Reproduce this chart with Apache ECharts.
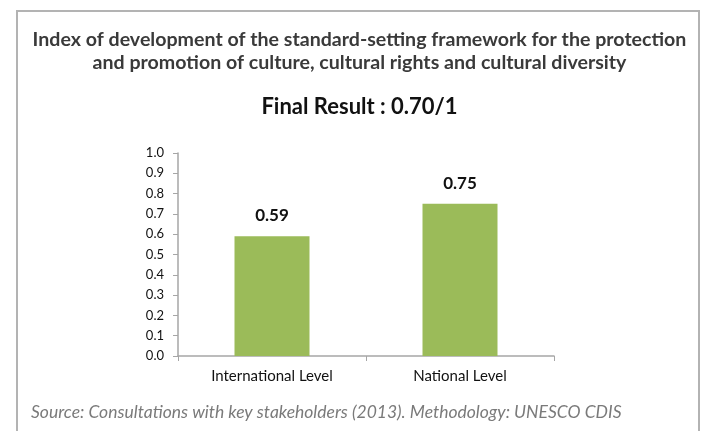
<!DOCTYPE html>
<html>
<head>
<meta charset="utf-8">
<script src="https://cdn.jsdelivr.net/npm/echarts@6/dist/echarts.min.js"></script>
<style>
  html, body { margin: 0; padding: 0; background: #fff; }
  #main { width: 702px; height: 431px; }
</style>
</head>
<body>
<div id="main"></div>
<script>
// data
var categories = ['International Level', 'National Level'];
var values = [0.59, 0.75];
var yTicks = [0, 0.1, 0.2, 0.3, 0.4, 0.5, 0.6, 0.7, 0.8, 0.9, 1.0];

var titleText = 'Index of development of the standard-setting framework for the protection\nand promotion of culture, cultural rights and cultural diversity';
var subText = 'Final Result : 0.70/1';
var sourceText = 'Source: Consultations with key stakeholders (2013). Methodology: UNESCO CDIS';

var font = 'Lato';

var dom = document.getElementById('main');
var myChart = echarts.init(dom, null, { renderer: 'canvas' });
var option = {
    animation: false,
    backgroundColor: '#fff',
    graphic: [
        {
            type: 'rect',
            shape: { x: 17, y: 11, width: 682, height: 440 },
            style: { fill: 'none', stroke: '#b3b3b3', lineWidth: 2 },
            z: -1
        },
        {
            type: 'text',
            x: 359.5,
            y: 51,
            style: {
                text: titleText,
                font: 'bold 19.6px ' + font,
                fill: '#3a3a3a',
                align: 'center',
                verticalAlign: 'middle',
                lineHeight: 23.5
            }
        },
        {
            type: 'text',
            x: 359.5,
            y: 107,
            style: {
                text: subText,
                font: 'bold 22px ' + font,
                fill: '#111',
                align: 'center',
                verticalAlign: 'middle'
            }
        },
        {
            type: 'text',
            x: 31,
            y: 412.5,
            style: {
                text: sourceText,
                font: 'italic 17.5px ' + font,
                fill: '#7a7a7a',
                align: 'left',
                verticalAlign: 'middle'
            }
        }
    ],
    grid: {
        left: 178,
        right: 148,
        top: 153,
        bottom: 75
    },
    xAxis: {
        type: 'category',
        data: categories,
        axisLine: { lineStyle: { color: '#a6a6a6', width: 1.5 } },
        axisTick: { show: true, length: 5, lineStyle: { color: '#a6a6a6' } },
        axisLabel: {
            color: '#111',
            fontFamily: font,
            fontSize: 15,
            margin: 13
        }
    },
    yAxis: {
        type: 'value',
        min: 0,
        max: 1,
        interval: 0.1,
        splitLine: { show: false },
        axisLine: { show: true, lineStyle: { color: '#a6a6a6', width: 1.5 } },
        axisTick: { show: true, length: 5, lineStyle: { color: '#a6a6a6' } },
        axisLabel: {
            color: '#111',
            fontFamily: font,
            fontSize: 13,
            margin: 14,
            formatter: function (v) {
                var t = yTicks.filter(function (x) { return Math.abs(x - v) < 1e-9; });
                return t.length ? t[0].toFixed(1) : '';
            }
        }
    },
    series: [
        {
            type: 'bar',
            data: values,
            barWidth: 75,
            itemStyle: { color: '#9bbb59' },
            label: {
                show: true,
                position: 'top',
                distance: 12,
                fontFamily: font,
                fontWeight: 'bold',
                fontSize: 17,
                color: '#111',
                formatter: function (p) { return p.value.toFixed(2); }
            }
        }
    ]
};

if (option && typeof option === "object") {
    myChart.setOption(option, true);
}
</script>
</body>
</html>
